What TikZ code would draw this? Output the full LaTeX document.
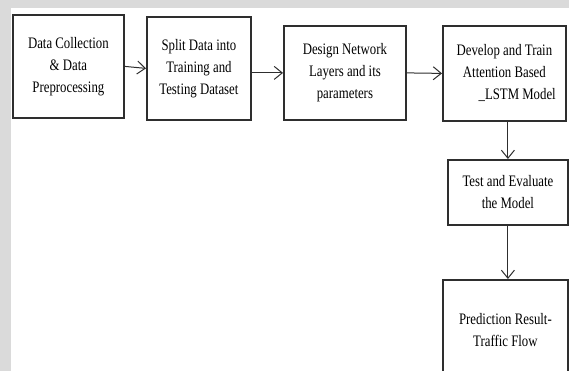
\documentclass[tikz,border=0pt]{standalone}
\usepackage{fontspec}
\setmainfont{Liberation Serif}[FakeStretch=0.8]
\usetikzlibrary{arrows.meta}
\definecolor{edge}{HTML}{2E2E2E}
\definecolor{band}{HTML}{DADADA}
\tikzset{
  x=1pt, y=-1pt,
  stepbox/.style={draw=edge, line width=1.8pt, fill=white, align=center,
    font=\fontsize{16}{22}\selectfont, inner sep=0pt, anchor=north west},
  flow/.style={draw=edge, line width=1pt, -{Straight Barb[length=8pt,width=13pt]}}
}
\begin{document}
\begin{tikzpicture}
\useasboundingbox (0,0) rectangle (569,371);
\clip (0,0) rectangle (569,371);
\fill[white] (0,0) rectangle (569,371);
\fill[band] (0,0) rectangle (569,8);
\fill[band] (0,0) rectangle (11,371);
\node[stepbox, minimum width=111pt, minimum height=103pt] (b1) at (12,14)
  {Data Collection\\\& Data\\Preprocessing};
\node[stepbox, minimum width=104pt, minimum height=103pt] (b2) at (146,16)
  {Split Data into\\Training and\\Testing Dataset};
\node[stepbox, minimum width=122pt, minimum height=94pt] (b3) at (283,25)
  {Design Network\\Layers and its\\parameters};
\node[stepbox, minimum width=123pt, minimum height=95pt] (b4) at (442,25)
  {Develop and Train\\Attention Based\\\hspace*{1.6em}\_LSTM Model};
\node[stepbox, minimum width=120pt, minimum height=65pt] (b5) at (447,159)
  {Test and Evaluate\\the Model};
\node[stepbox, minimum width=125pt, minimum height=100pt] (b6) at (442,279)
  {Prediction Result-\\Traffic Flow};
\draw[flow] (b1.east) -- (b2.west);
\draw[flow] (b3.west -| b2.east) -- (b3.west);
\draw[flow] (b3.east) -- (b4.west);
\draw[flow] (b4.south -| b5.north) -- (b5.north);
\draw[flow] (b5.south) -- (b6.north -| b5.south);
\end{tikzpicture}
\end{document}
